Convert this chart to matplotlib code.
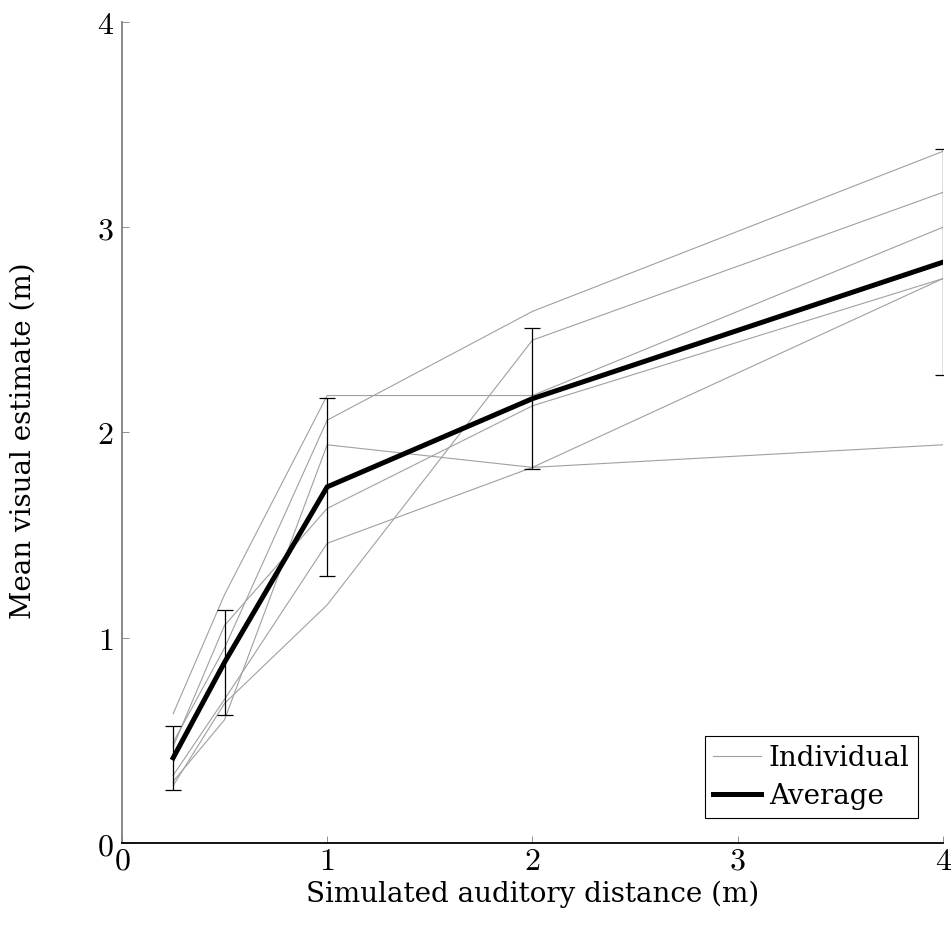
import numpy as np
import matplotlib
matplotlib.use('Agg')
import matplotlib.pyplot as plt

plt.rcParams['font.family'] = ['DejaVu Serif']
plt.rcParams['mathtext.fontset'] = 'cm'

# simulated distances (m)
dist = [0.25, 0.5, 1, 2, 4]

# individual participants' mean visual estimates (m)
indiv = [
    [0.63, 1.21, 2.18, 2.18, 3.00],
    [0.49, 0.95, 2.06, 2.59, 3.37],
    [0.47, 1.06, 1.63, 2.13, 2.75],
    [0.30, 0.60, 1.94, 1.83, 1.94],
    [0.28, 0.68, 1.16, 2.45, 3.17],
    [0.33, 0.70, 1.46, 1.83, 2.75],
]

avg = [0.415, 0.88, 1.735, 2.165, 2.83]
err = [0.155, 0.255, 0.435, 0.345, 0.55]

ticks = [0, 1, 2, 3, 4]

fig = plt.figure(figsize=(9.52, 9.27), dpi=100)
ax = fig.add_axes([0.128, 0.0906, 0.8626, 0.8857])

for i, row in enumerate(indiv):
    ax.plot(dist, row, color='#a0a0a0', lw=0.8,
            label='Individual' if i == 0 else None)

ax.errorbar(dist, avg, yerr=err, fmt='none', ecolor='black',
            elinewidth=0.9, capsize=6, capthick=0.9)
ax.plot(dist, avg, color='black', lw=3.6, label='Average',
        solid_joinstyle='miter')

ax.set_xlim(0, 4)
ax.set_ylim(0, 4)
ax.set_xticks(ticks)
ax.set_yticks(ticks)
ax.set_xticklabels([r'$%d$' % t for t in ticks])
ax.set_yticklabels([r'$%d$' % t for t in ticks])

for s in ['top', 'right']:
    ax.spines[s].set_visible(False)
ax.spines['left'].set_color('#808080')
ax.spines['left'].set_linewidth(1.3)
ax.spines['bottom'].set_color('black')
ax.spines['bottom'].set_linewidth(1.3)

ax.tick_params(direction='in', length=5, width=0.6, color='#808080',
               labelsize=23, pad=6)
ax.tick_params(axis='x', pad=2)

ax.set_xlabel('Simulated auditory distance (m)', fontsize=20)
ax.set_ylabel('Mean visual estimate (m)', fontsize=20)
ax.xaxis.set_label_coords(0.5, -0.046)
ax.yaxis.set_label_coords(-0.104, 0.49)

leg = ax.legend(loc='lower right', fontsize=20, frameon=True, fancybox=False,
                edgecolor='black', framealpha=1, handlelength=1.7,
                handletextpad=0.3, borderpad=0.3, labelspacing=0.4,
                borderaxespad=0.9)
leg.get_frame().set_linewidth(0.8)

fig.savefig('out.png', dpi=100)
